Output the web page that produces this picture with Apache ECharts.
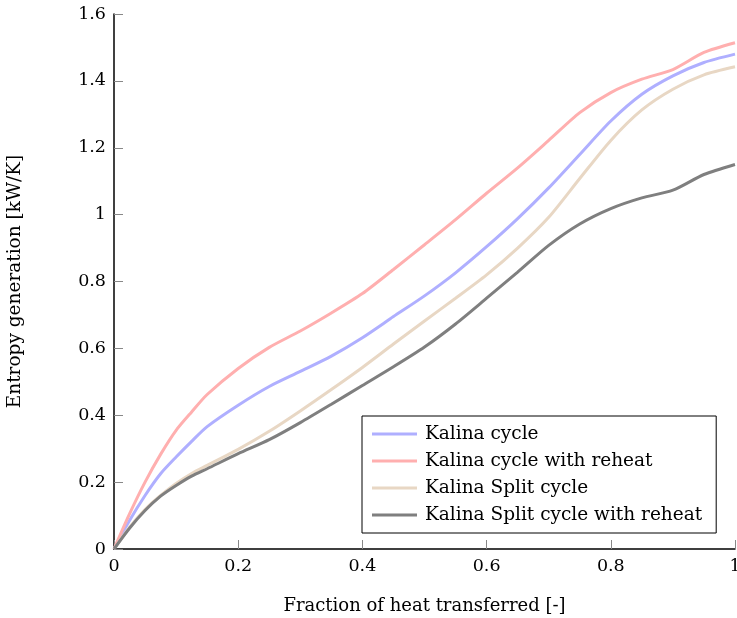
<!DOCTYPE html>
<html>
<head>
<meta charset="utf-8">
<script src="https://cdn.jsdelivr.net/npm/echarts@6/dist/echarts.min.js"></script>
<style>html,body{margin:0;padding:0;background:#fff}#c{width:737px;height:618px}</style>
</head>
<body>
<div id="c"></div>
<script>
var xValues = [0, 0.025, 0.05, 0.075, 0.1, 0.125, 0.15, 0.2, 0.25, 0.3, 0.35, 0.4, 0.45, 0.5, 0.55, 0.6, 0.65, 0.7, 0.75, 0.8, 0.85, 0.9, 0.95, 1.0];
var kalina       = [0, 0.085, 0.16, 0.225, 0.275, 0.322, 0.366, 0.43, 0.486, 0.531, 0.577, 0.632, 0.695, 0.757, 0.826, 0.904, 0.988, 1.08, 1.18, 1.28, 1.36, 1.415, 1.455, 1.48];
var kalinaReheat = [0, 0.105, 0.2, 0.283, 0.355, 0.41, 0.462, 0.54, 0.603, 0.652, 0.706, 0.764, 0.836, 0.91, 0.985, 1.064, 1.14, 1.222, 1.305, 1.365, 1.405, 1.434, 1.485, 1.514];
var split        = [0, 0.065, 0.118, 0.16, 0.196, 0.226, 0.25, 0.298, 0.352, 0.413, 0.477, 0.543, 0.613, 0.682, 0.75, 0.82, 0.9, 0.992, 1.108, 1.222, 1.313, 1.375, 1.418, 1.442];
var splitReheat  = [0, 0.062, 0.115, 0.158, 0.19, 0.218, 0.24, 0.285, 0.327, 0.378, 0.433, 0.489, 0.545, 0.604, 0.673, 0.75, 0.828, 0.908, 0.972, 1.018, 1.05, 1.073, 1.12, 1.15];
var seriesNames = ['Kalina cycle', 'Kalina cycle with reheat', 'Kalina Split cycle', 'Kalina Split cycle with reheat'];
var seriesColors = ['#afafff', '#ffafaf', '#e8d7c4', '#7f7f7f'];
var xTitle = 'Fraction of heat transferred [-]';
var yTitle = 'Entropy generation [kW/K]';

var FONT = 'DejaVu Serif';
function pairs(ys) { return xValues.map(function (x, i) { return [x, ys[i]]; }); }
var allY = [kalina, kalinaReheat, split, splitReheat];

var chart = echarts.init(document.getElementById('c'), null, {renderer: 'canvas'});
chart.setOption({
  animation: false,
  backgroundColor: '#fff',
  grid: {left: 114, right: 2, top: 14, bottom: 69, containLabel: false, outerBoundsMode: 'none'},
  xAxis: {
    type: 'value', min: 0, max: 1, interval: 0.2,
    name: xTitle, nameLocation: 'middle', nameGap: 48,
    nameTextStyle: {fontFamily: FONT, fontSize: 18, color: '#000'},
    axisLine: {show: true, lineStyle: {color: '#000', width: 1.5}},
    axisTick: {show: true, inside: true, length: 9, lineStyle: {color: '#888', width: 1}},
    axisLabel: {fontFamily: FONT, fontSize: 17.5, color: '#000', margin: 8},
    splitLine: {show: false}
  },
  yAxis: {
    type: 'value', min: 0, max: 1.6, interval: 0.2,
    name: yTitle, nameLocation: 'middle', nameGap: 89, nameRotate: 90,
    nameTextStyle: {fontFamily: FONT, fontSize: 18.5, color: '#000'},
    axisLine: {show: true, lineStyle: {color: '#000', width: 1.5}},
    axisTick: {show: true, inside: true, length: 9, lineStyle: {color: '#888', width: 1}},
    axisLabel: {fontFamily: FONT, fontSize: 17.5, color: '#000', margin: 8},
    splitLine: {show: false}
  },
  legend: {
    orient: 'vertical', left: 362, top: 416,
    backgroundColor: '#fff', borderColor: '#000', borderWidth: 1, borderRadius: 0,
    padding: [8, 14, 8, 10],
    itemWidth: 45, itemHeight: 14, itemGap: 7,
    textStyle: {fontFamily: FONT, fontSize: 18.5, color: '#000', lineHeight: 20, padding: [0, 0, 0, 3]},
    data: seriesNames.map(function (n) { return {name: n, icon: 'path://M0,6 L45,6 L45,9 L0,9 Z'}; })
  },
  series: seriesNames.map(function (n, i) {
    return {
      name: n, type: 'line', data: pairs(allY[i]),
      smooth: 0.25, symbol: 'none', showSymbol: false,
      lineStyle: {color: seriesColors[i], width: 3},
      itemStyle: {color: seriesColors[i]}
    };
  })
});
</script>
</body>
</html>
